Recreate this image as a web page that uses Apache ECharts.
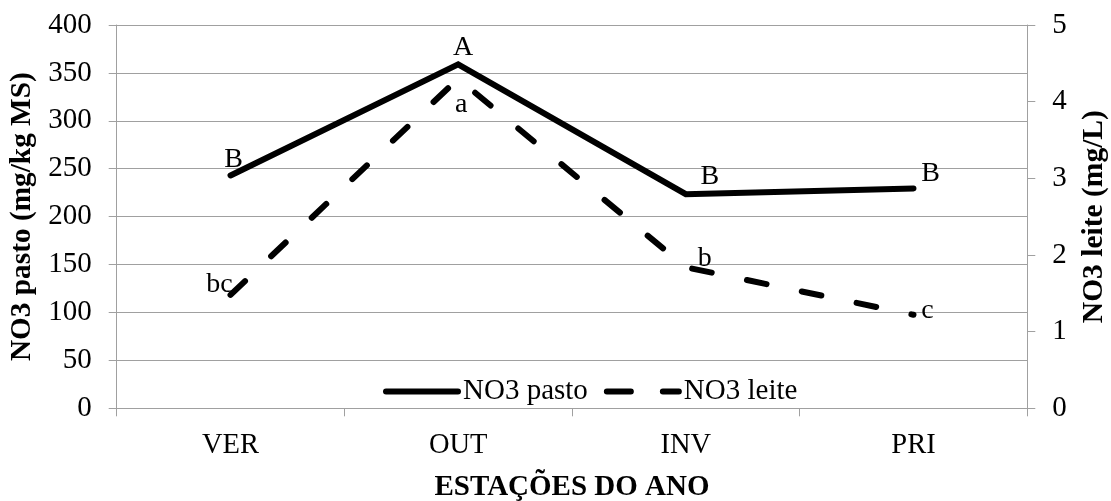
<!DOCTYPE html>
<html>
<head>
<meta charset="utf-8">
<script src="https://cdn.jsdelivr.net/npm/echarts@6/dist/echarts.min.js"></script>
<style>html,body{margin:0;padding:0;background:#fff;}#c{width:1111px;height:501px;}</style>
</head>
<body>
<div id="c"></div>
<script>
const categories = ['VER', 'OUT', 'INV', 'PRI'];
const pastoValues = [243, 359, 223.5, 229.5];
const leiteValues = [1.48, 4.30, 1.84, 1.22];
const pastoLetters = ['B', 'A', 'B', 'B'];
const leiteLetters = ['bc', 'a', 'b', 'c'];
const leftTicks = [0, 400, 50];
const rightTicks = [0, 5, 1];

// label placement (style)
const pastoOffsets = [[3, -16], [5, -17], [24, -17], [17, -15]];
const leiteOffsets = [[-11, -10], [3, 26], [19, -9], [14, -4]];

const FONT = "'Liberation Serif', 'Times New Roman', serif";
const GRAY = '#a0a0a0';

function withLabels(vals, letters, offs) {
  return vals.map((v, i) => ({
    value: v,
    label: { show: true, formatter: letters[i], position: 'inside', offset: offs[i],
             color: '#000', fontFamily: FONT, fontSize: 28 }
  }));
}

const chart = echarts.init(document.getElementById('c'), null, { renderer: 'canvas' });
chart.setOption({
  animation: false,
  backgroundColor: '#fff',
  grid: { left: 116.7, right: 83.7, top: 25, bottom: 92.7, containLabel: false, outerBoundsMode: 'none' },
  legend: {
    left: 378, top: 372,
    itemWidth: 72, itemHeight: 14, itemGap: 16,
    textStyle: { fontFamily: FONT, fontSize: 29, color: '#000' },
    lineStyle: { width: 6, cap: 'round' },
    data: [
      { name: 'NO3 pasto' },
      { name: 'NO3 leite', lineStyle: { width: 6, type: [24, 32], cap: 'round' } }
    ]
  },
  xAxis: {
    type: 'category', data: categories, boundaryGap: true,
    name: 'ESTAÇÕES DO ANO', nameLocation: 'middle', nameGap: 65,
    nameTextStyle: { fontFamily: FONT, fontSize: 29, fontWeight: 'bold', color: '#000' },
    axisLine: { show: true, lineStyle: { color: GRAY, width: 1 } },
    axisTick: { show: true, length: 8, lineStyle: { color: GRAY } },
    axisLabel: { margin: 23, fontFamily: FONT, fontSize: 28.5, color: '#000' },
    splitLine: { show: false }
  },
  yAxis: [
    {
      type: 'value', min: leftTicks[0], max: leftTicks[1], interval: leftTicks[2], position: 'left',
      name: 'NO3 pasto (mg/kg MS)', nameLocation: 'middle', nameRotate: 90, nameGap: 78,
      nameTextStyle: { fontFamily: FONT, fontSize: 29.3, fontWeight: 'bold', color: '#000' },
      axisLine: { show: true, lineStyle: { color: GRAY, width: 1 } },
      axisTick: { show: true, length: 8, lineStyle: { color: GRAY } },
      axisLabel: { margin: 25, fontFamily: FONT, fontSize: 29, color: '#000' },
      splitLine: { show: true, lineStyle: { color: GRAY, width: 1 } }
    },
    {
      type: 'value', min: rightTicks[0], max: rightTicks[1], interval: rightTicks[2], position: 'right',
      name: 'NO3 leite (mg/L)', nameLocation: 'middle', nameRotate: 90, nameGap: 52,
      nameTextStyle: { fontFamily: FONT, fontSize: 29.5, fontWeight: 'bold', color: '#000' },
      axisLine: { show: true, lineStyle: { color: GRAY, width: 1 } },
      axisTick: { show: true, length: 8, lineStyle: { color: GRAY } },
      axisLabel: { margin: 25, fontFamily: FONT, fontSize: 29, color: '#000' },
      splitLine: { show: false }
    }
  ],
  series: [
    {
      name: 'NO3 pasto', type: 'line', yAxisIndex: 0,
      data: withLabels(pastoValues, pastoLetters, pastoOffsets),
      symbol: 'circle', symbolSize: 0.1, showSymbol: true,
      itemStyle: { color: 'rgba(0,0,0,0)' },
      lineStyle: { color: '#000', width: 6, cap: 'round', join: 'miter' }
    },
    {
      name: 'NO3 leite', type: 'line', yAxisIndex: 1,
      data: withLabels(leiteValues, leiteLetters, leiteOffsets),
      symbol: 'circle', symbolSize: 0.1, showSymbol: true,
      itemStyle: { color: 'rgba(0,0,0,0)' },
      lineStyle: { color: '#000', width: 6, type: [20, 36], cap: 'round', join: 'round' }
    }
  ]
});
</script>
</body>
</html>
